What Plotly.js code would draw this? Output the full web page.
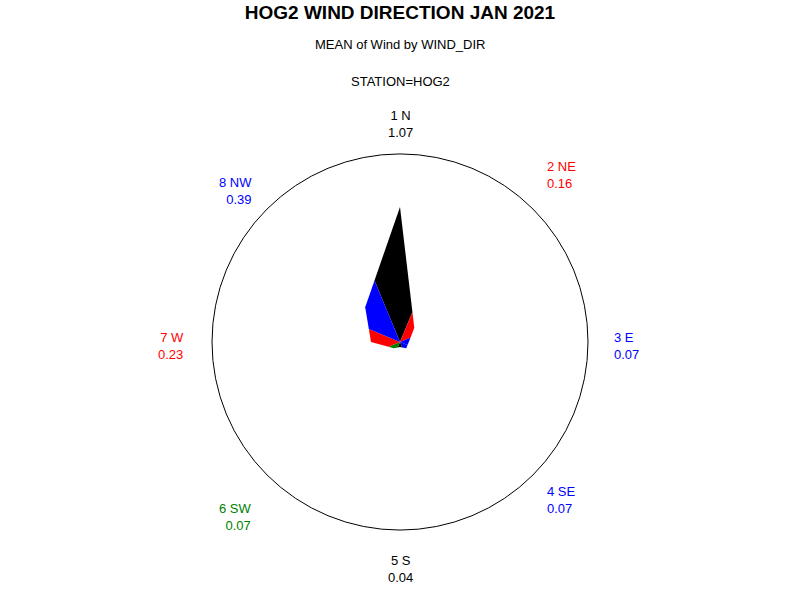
<!DOCTYPE html>
<html>
<head>
<meta charset="utf-8">
<script src="https://cdn.plot.ly/plotly-3.0.1.min.js"></script>
<style>html,body{margin:0;padding:0;background:#fff;}#chart{width:800px;height:600px;}</style>
</head>
<body>
<div id="chart"></div>
<script>
// ---- data ----
const directions = ['1 N', '2 NE', '3 E', '4 SE', '5 S', '6 SW', '7 W', '8 NW'];
const meanWind = [1.07, 0.16, 0.07, 0.07, 0.04, 0.07, 0.23, 0.39];
const valueLabels = ['1.07', '0.16', '0.07', '0.07', '0.04', '0.07', '0.23', '0.39'];

// ---- styles / layout config ----
const sliceColors = ['#000000', '#ff0000', '#0000ff', '#0000ff', '#000000', '#008000', '#ff0000', '#0000ff'];
// label block positions in pixels (x, y centre of block) and anchor
const labelPos = [
  {x: 400, y: 124, a: 'center'},
  {x: 545, y: 175, a: 'left'},
  {x: 612, y: 346, a: 'left'},
  {x: 545, y: 500, a: 'left'},
  {x: 400, y: 569, a: 'center'},
  {x: 254, y: 517, a: 'right'},
  {x: 186, y: 346, a: 'right'},
  {x: 254, y: 191, a: 'right'}
];
const W = 800, H = 600;
const rMax = 1.49;

const n = directions.length;
const step = 360 / n;
const half = step / 2;
const k = 2 * Math.cos(half * Math.PI / 180);
function edgeR(a, b) { return (a + b) > 0 ? k * a * b / (a + b) : 0; }

const traces = [];
for (let i = 0; i < n; i++) {
  const prev = (i + n - 1) % n, next = (i + 1) % n;
  const th = i * step;
  const v = meanWind[i];
  traces.push({
    type: 'scatterpolar',
    mode: 'lines',
    r: [0, edgeR(meanWind[prev], v), v, edgeR(v, meanWind[next]), 0],
    theta: [th, th - half, th, th + half, th],
    fill: 'toself',
    fillcolor: sliceColors[i],
    line: {width: 0, color: sliceColors[i]},
    hoverinfo: 'skip',
    showlegend: false
  });
}

const annotations = [
  {text: 'MEAN of Wind by WIND_DIR', x: 0.5, y: 1 - 45 / H, xref: 'paper', yref: 'paper',
   showarrow: false, xanchor: 'center', yanchor: 'middle',
   font: {family: 'Liberation Sans, Arial, sans-serif', size: 13, color: '#000'}},
  {text: 'STATION=HOG2', x: 0.5, y: 1 - 81 / H, xref: 'paper', yref: 'paper',
   showarrow: false, xanchor: 'center', yanchor: 'middle',
   font: {family: 'Liberation Sans, Arial, sans-serif', size: 13, color: '#000'}}
];
for (let i = 0; i < n; i++) {
  const p = labelPos[i];
  annotations.push({
    text: directions[i] + '<br>' + valueLabels[i],
    x: p.x / W, y: 1 - p.y / H, xref: 'paper', yref: 'paper',
    showarrow: false, xanchor: p.a, yanchor: 'middle', align: p.a,
    font: {family: 'Liberation Sans, Arial, sans-serif', size: 13, color: sliceColors[i]}
  });
}

const layout = {
  width: W, height: H,
  margin: {l: 0, r: 0, t: 0, b: 0},
  paper_bgcolor: '#fff',
  showlegend: false,
  title: {
    text: '<b>HOG2 WIND DIRECTION JAN 2021</b>',
    x: 0.5, xanchor: 'center', y: 1 - 12 / H, yanchor: 'middle',
    font: {family: 'Liberation Sans, Arial, sans-serif', size: 19, color: '#000'}
  },
  polar: {
    domain: {x: [212 / W, 588 / W], y: [1 - 530 / H, 1 - 154 / H]},
    bgcolor: '#fff',
    radialaxis: {range: [0, rMax], visible: false, showgrid: false, showline: false, showticklabels: false, ticks: ''},
    angularaxis: {direction: 'clockwise', rotation: 90, showgrid: false, showticklabels: false, ticks: '',
                  showline: true, linecolor: '#000', linewidth: 1}
  },
  annotations: annotations
};

Plotly.newPlot('chart', traces, layout, {displayModeBar: false, staticPlot: true});
</script>
</body>
</html>
